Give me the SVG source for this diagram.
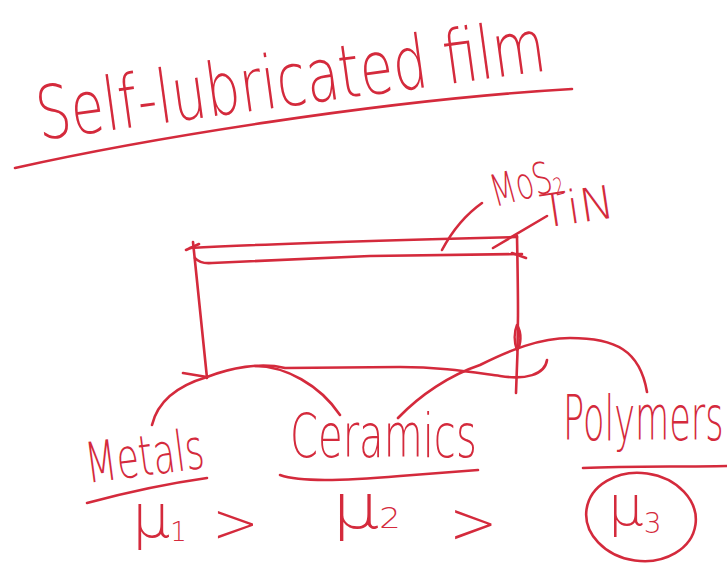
<svg xmlns="http://www.w3.org/2000/svg" width="727" height="568" viewBox="0 0 727 568">
<style>
.ink{fill:none;stroke:#d42a3c;stroke-width:2.6;stroke-linecap:round;stroke-linejoin:round}
.hw{fill:#d42a3c;font-family:"DejaVu Sans","Liberation Sans",sans-serif;font-weight:200}
</style>
<rect width="727" height="568" fill="#ffffff"/>
<g id="title">
<text class="hw" x="0" y="0" font-size="74" transform="translate(40,140) rotate(-7.8) scale(0.731,1)">Self-lubricated film</text>
<path class="ink" d="M15,168 C140,140 380,100 572,89"/>
</g>
<g id="film">
<path class="ink" d="M190,248 C260,244 400,240 517,237"/>
<path class="ink" d="M195,258 Q200,264 212,263 L370,256 L522,254"/>
<path class="ink" d="M186,250 L199,244 M512,253 L526,258"/>
<path class="ink" d="M193,242 C198,290 203,340 207,378"/>
<path class="ink" d="M517,236 C518,290 519,330 516,393"/>
<path class="ink" d="M517,325 C522,333 521,345 517,350 C514,342 514,332 517,325"/>
<path class="ink" d="M183,373 L207,377 C230,368 260,362 285,368 L400,367 C440,367 470,372 500,376 C525,380 545,375 547,360"/>
</g>
<g id="mos2">
<text class="hw" x="0" y="0" font-size="44" transform="translate(495,207) rotate(-15) scale(0.667,1)">MoS<tspan font-size="24" dy="5">2</tspan></text>
</g>
<g id="tin">
<text class="hw" x="0" y="0" font-size="46" transform="translate(543,228) rotate(-8.5)">TiN</text>
</g>
<g id="metals">
<text class="hw" x="0" y="0" font-size="56" transform="translate(88,483) rotate(-7.4) scale(0.647,1)">Metals</text>
<path class="ink" d="M87,503 Q150,486 207,478"/>
<text class="hw" x="132" y="537" font-size="60">μ<tspan font-size="26" dy="4">1</tspan></text>
<text class="hw" x="212" y="542" font-size="56">&gt;</text>
</g>
<g id="ceramics">
<text class="hw" x="0" y="0" font-size="60" transform="translate(290,457) scale(0.668,1)">Ceramics</text>
<path class="ink" d="M280,475 C300,482 340,481 400,476 L478,470"/>
<text class="hw" x="0" y="0" font-size="62" transform="translate(332,528) scale(1.2,1)">μ<tspan font-size="28">2</tspan></text>
<text class="hw" x="449" y="543" font-size="58">&gt;</text>
</g>
<g id="polymers">
<text class="hw" x="0" y="0" font-size="62" transform="translate(563,440) scale(0.567,1)">Polymers</text>
<path class="ink" d="M583,468 C630,466 680,467 727,466"/>
<ellipse class="ink" cx="641" cy="517" rx="55" ry="44" transform="rotate(8 641 517)"/>
<text class="hw" x="608" y="525" font-size="56">μ<tspan font-size="28" dy="8">3</tspan></text>
</g>
<g id="connectors">
<path class="ink" d="M482,203 Q458,220 442,250"/>
<path class="ink" d="M547,216 L493,248"/>
<path class="ink" d="M207,377 C180,385 158,400 152,425"/>
<path class="ink" d="M255,366 C285,366 320,385 340,415"/>
<path class="ink" d="M398,418 C420,395 450,375 480,365 C510,350 540,338 570,338 C615,338 640,350 647,392"/>
</g>
</svg>
